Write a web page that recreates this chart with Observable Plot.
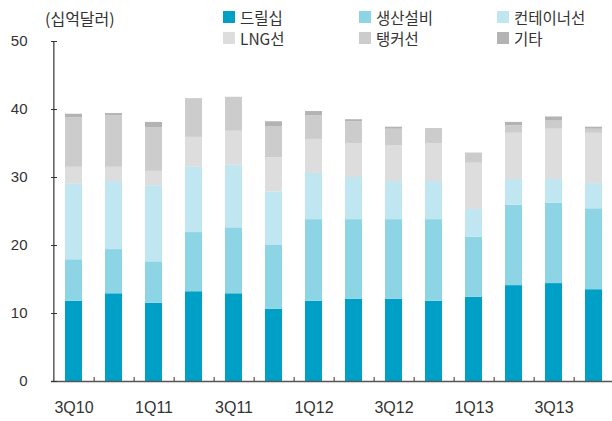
<!DOCTYPE html>
<html>
<head>
<meta charset="utf-8">
<script src="https://cdn.jsdelivr.net/npm/d3@7"></script>
<script src="https://cdn.jsdelivr.net/npm/@observablehq/plot@0.6"></script>
<style>
  html, body { margin: 0; padding: 0; background: #fff; }
  #wrap { position: relative; width: 612px; height: 421px; overflow: hidden; }
  #title { position: absolute; left: 45px; top: 5px; font: 16px "Noto Sans CJK KR", sans-serif; color: #333; line-height: 26px; }
  .lg { position: absolute; display: flex; align-items: center; font: 15.5px "Noto Sans CJK KR", sans-serif; color: #333; line-height: 22px; }
  .sw { width: 12px; height: 12px; margin-right: 5px; }
</style>
</head>
<body>
<div id="wrap">
  <div id="chart"></div>
  <div id="title">(십억달러)</div>
  <div id="legend"></div>
</div>
<script>
const quarters = ["3Q10","4Q10","1Q11","2Q11","3Q11","4Q11","1Q12","2Q12","3Q12","4Q12","1Q13","2Q13","3Q13","4Q13"];
const tickLabels = ["3Q10","1Q11","3Q11","1Q12","3Q12","1Q13","3Q13"];
const seriesNames = ["드릴십","생산설비","컨테이너선","LNG선","탱커선","기타"];
const seriesColors = ["#00a0c6","#8dd5e4","#c0e7f1","#dddddd","#cccccc","#b3b3b3"];
const drill  = [11.8,12.9,11.5,13.2,12.9,10.6,11.8,12.1,12.1,11.8,12.4,14.1,14.4,13.5];
const prod   = [6.1,6.5,6.1,8.7,9.7,9.4,12.0,11.7,11.7,12.0,8.8,11.8,11.8,11.9];
const cont   = [11.1,10.0,11.2,9.6,9.2,7.9,6.8,6.2,5.6,5.6,4.1,3.8,3.5,3.7];
const lng    = [2.5,2.1,2.1,4.4,5.0,5.0,5.0,5.0,5.3,5.6,6.8,6.8,7.4,7.4];
const tanker = [7.3,7.6,6.45,5.7,5.0,4.6,3.5,3.2,2.4,2.2,1.5,1.1,1.2,0.6];
const other  = [0.5,0.3,0.75,0,0,0.7,0.6,0.3,0.3,0,0,0.5,0.6,0.3];
const yTicks = [0,10,20,30,40,50];

const seriesValues = [drill, prod, cont, lng, tanker, other];
const table = [];
seriesNames.forEach((s, i) => quarters.forEach((q, j) => table.push({q, s, v: seriesValues[i][j]})));

const W = 612, H = 421, ML = 51, MR = -3;
const step = (W - MR - ML) / quarters.length;

const chart = Plot.plot({
  width: W, height: H,
  marginLeft: ML, marginRight: MR, marginTop: 41, marginBottom: 40,
  style: {fontFamily: "'Liberation Sans', Arial, sans-serif", color: "#333", background: "transparent", overflow: "visible"},
  x: {type: "band", domain: quarters, paddingInner: 0.58, paddingOuter: 0.29},
  y: {domain: [0, 50]},
  color: {domain: seriesNames, range: seriesColors},
  marks: [
    Plot.barY(table, {x: "q", y: "v", fill: "s", order: seriesNames}),
    Plot.ruleY([0], {stroke: "#555", strokeWidth: 1.5}),
    Plot.ruleX([quarters[0]], {dx: -step / 2, y1: 0, y2: 50, stroke: "#333", strokeWidth: 1.2}),
    Plot.ruleX(quarters.slice(0, -1), {dx: step / 2, y1: 0, y2: 0.6, stroke: "#333", strokeWidth: 1}),
    Plot.axisY({ticks: yTicks, tickFormat: d => String(d), tickSize: 6, dx: 6, tickPadding: 24, fontSize: 15, stroke: "#333", label: null}),
    Plot.axisX({ticks: tickLabels, tickSize: 0, tickPadding: 20, fontSize: 16, label: null})
  ]
});
document.getElementById("chart").appendChild(chart);

const legendPos = [[223, 6], [359, 6], [497, 6], [223, 27], [359, 27], [497, 27]];
const legend = document.getElementById("legend");
seriesNames.forEach((s, i) => {
  const d = document.createElement("div");
  d.className = "lg";
  d.style.left = legendPos[i][0] + "px";
  d.style.top = legendPos[i][1] + "px";
  const sw = document.createElement("span");
  sw.className = "sw";
  sw.style.background = seriesColors[i];
  const t = document.createElement("span");
  t.textContent = s;
  d.appendChild(sw); d.appendChild(t);
  legend.appendChild(d);
});
</script>
</body>
</html>
